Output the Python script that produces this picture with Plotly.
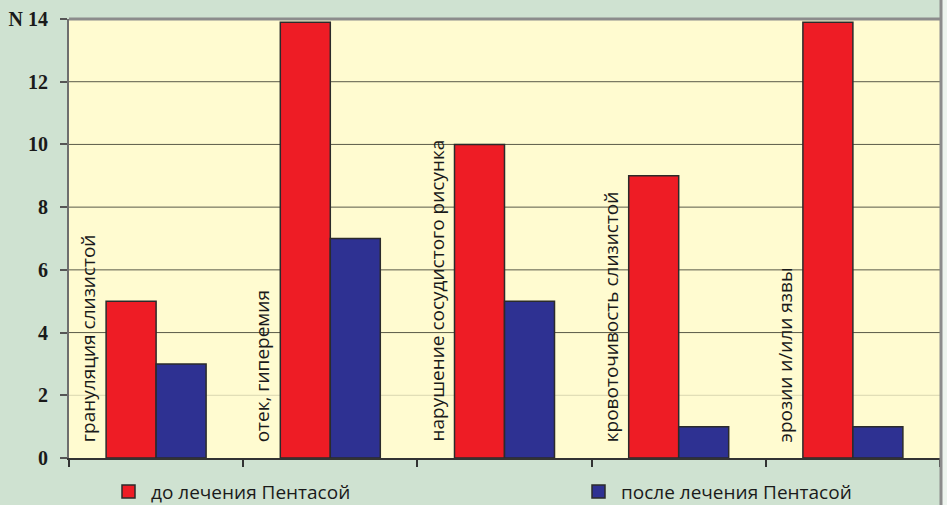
import plotly.graph_objects as go

categories = [
    "грануляция слизистой",
    "отек, гиперемия",
    "нарушение сосудистого рисунка",
    "кровоточивость слизистой",
    "эрозии и/или язвы",
]
before_name = "до лечения Пентасой"
after_name = "после лечения Пентасой"
before_values = [5, 13.9, 10, 9, 13.9]
after_values = [3, 7, 5, 1, 1]
y_ticks = [0, 2, 4, 6, 8, 10, 12, 14]
y_tick_text = ["0", "2", "4", "6", "8", "10", "12", "N 14"]

RED = "#ee1c25"
BLUE = "#2e3192"
PAPER = "#cfe2d1"
PLOT = "#fffbd0"
SANS = "Open Sans, Noto Sans, sans-serif"
SERIF = "Liberation Serif, Times New Roman, serif"

W, H = 947, 505
ML, MR, MT, MB = 69, 7, 19, 47
PW, PH = W - ML - MR, H - MT - MB


def px_x(p):
    return (p - ML) / PW


def px_y(p):
    return (H - MB - p) / PH


xs = list(range(len(categories)))

fig = go.Figure()
fig.add_trace(go.Bar(
    x=xs, y=before_values, name=before_name,
    marker=dict(color=RED, line=dict(color="#2b2b2b", width=1.5)),
))
fig.add_trace(go.Bar(
    x=xs, y=after_values, name=after_name,
    marker=dict(color=BLUE, line=dict(color="#2b2b2b", width=1.5)),
))

# horizontal grid lines (drawn under the bars)
for v in y_ticks[1:-1]:
    fig.add_shape(type="line", xref="paper", yref="y", x0=0, x1=1, y0=v, y1=v,
                  line=dict(color="#d9d6b0" if v == 2 else "#5a5a48", width=1),
                  layer="below")

# category labels written vertically inside the plot area
for i, name in enumerate(categories):
    fig.add_annotation(
        x=i - 0.39, y=0, xref="x", yref="y", text=name, textangle=-90,
        showarrow=False, xanchor="center", yanchor="bottom", yshift=14,
        font=dict(family=SANS, size=19, color="#1a1a1a"),
    )

# legend below the plot: a square swatch and a caption per series
for color, name, x_px in [(RED, before_name, 122), (BLUE, after_name, 592)]:
    fig.add_shape(type="rect", xref="paper", yref="paper",
                  x0=px_x(x_px), x1=px_x(x_px + 13), y0=px_y(485), y1=px_y(498),
                  fillcolor=color, line=dict(color="#2b2b2b", width=1.5))
    fig.add_annotation(x=px_x(x_px + 27), y=px_y(491.5), xref="paper", yref="paper",
                       text=name, showarrow=False, xanchor="left", yanchor="middle",
                       font=dict(family=SANS, size=19, color="#1a1a1a"))

fig.update_layout(
    width=W, height=H,
    margin=dict(l=ML, r=MR, t=MT, b=MB),
    paper_bgcolor=PAPER, plot_bgcolor=PLOT,
    barmode="group", bargap=0.426, bargroupgap=0,
    showlegend=False,
    xaxis=dict(
        range=[-0.5, len(categories) - 0.5],
        tickvals=[i - 0.5 for i in range(len(categories) + 1)],
        ticktext=[""] * (len(categories) + 1),
        ticks="outside", ticklen=7, tickwidth=1.5, tickcolor="#333333",
        showgrid=False, zeroline=False,
        showline=True, linecolor="#333333", linewidth=1.5,
    ),
    yaxis=dict(
        range=[0, 14],
        tickvals=y_ticks, ticktext=y_tick_text,
        ticks="outside", ticklen=7, tickwidth=1.5, tickcolor="#555555",
        ticklabelstandoff=8,
        tickfont=dict(family=SERIF, size=20, color="#1a1a1a", weight="bold"),
        showgrid=False, zeroline=False,
        showline=True, linecolor="#6e6e6e", linewidth=2,
    ),
)

# pale strip at the right edge of the panel
fig.add_shape(type="rect", xref="paper", yref="paper",
              x0=px_x(942), x1=px_x(W + 2), y0=px_y(H + 2), y1=px_y(-2),
              fillcolor="#edf4ee", line=dict(width=0))
# top frame of the plot area and right frame of the panel
fig.add_shape(type="line", xref="paper", yref="paper", x0=0, x1=px_x(942), y0=1, y1=1,
              line=dict(color="#8c8c8c", width=3))
fig.add_shape(type="line", xref="paper", yref="paper",
              x0=px_x(941), x1=px_x(941), y0=px_y(H + 2), y1=px_y(-2),
              line=dict(color="#8c8c8c", width=3))

fig.write_html("out.html")
